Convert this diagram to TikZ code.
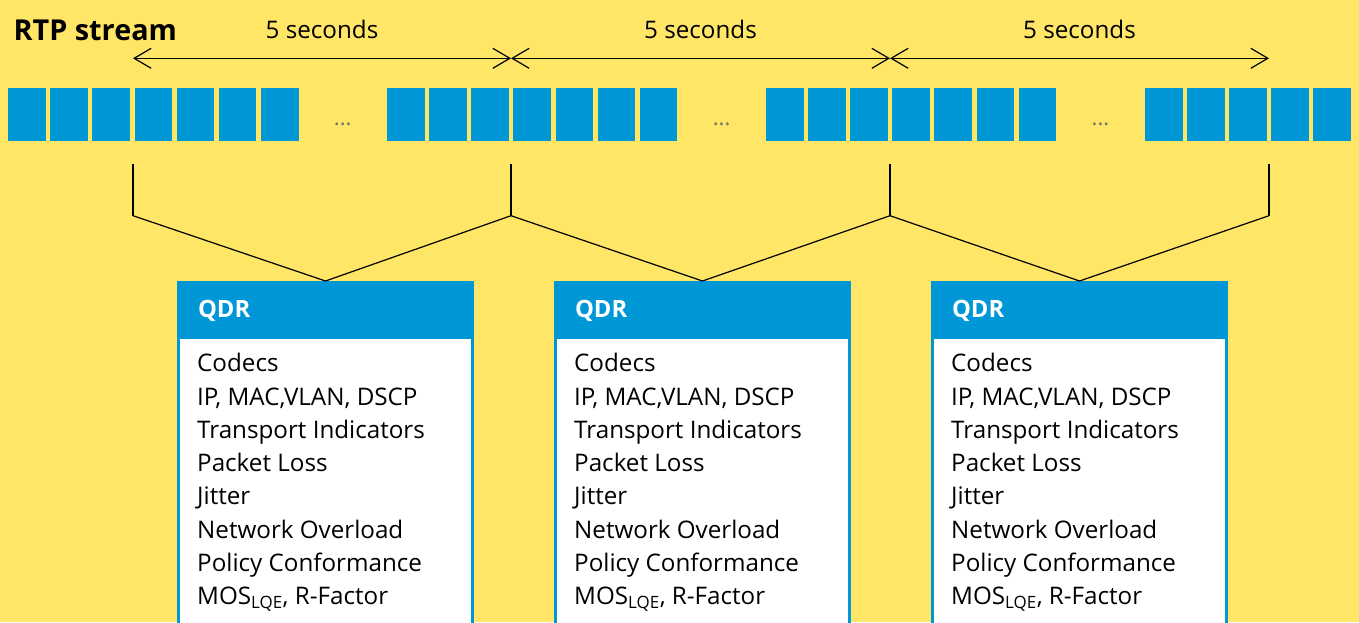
\documentclass[tikz,border=0pt]{standalone}
\usepackage{fontspec}
\setmainfont{Open Sans}
\usetikzlibrary{arrows.meta,positioning}
\definecolor{bgyellow}{RGB}{255,230,102}
\definecolor{qdrblue}{RGB}{0,151,215}

\begin{document}
\begin{tikzpicture}[x=1pt,y=-1pt,>={Straight Barb[length=17pt,width=20pt]},
	packet/.style={fill=qdrblue,minimum width=37.7pt,minimum height=52.7pt,inner sep=0pt,anchor=north west},
	gapdots/.style={text=black!55,font=\fontsize{22}{22}\selectfont,anchor=base,inner sep=0pt},
	qdrhead/.style={fill=qdrblue,text=white,font=\fontsize{23.8}{23.8}\selectfont\bfseries,
		minimum width=297pt,minimum height=57pt,text width=255pt,inner xsep=21pt,
		text height=16.5pt,text depth=0pt,align=left,anchor=north west,outer sep=0pt},
	qdrbody/.style={fill=white,draw=qdrblue,line width=2.6pt,minimum width=294.4pt,
		minimum height=320pt,inner sep=0pt,outer sep=0pt},
	item/.style={anchor=base west,inner sep=0pt,font=\fontsize{24.2}{24.2}\selectfont},
	line/.style={line width=1.2pt}]
	\useasboundingbox (0,0) rectangle (1359,622);
	\fill[bgyellow] (0,0) rectangle (1359,622);

	\node[anchor=base west,inner sep=0pt,font=\fontsize{28.8}{28.8}\selectfont\bfseries] (title) at (13.5,40) {RTP stream};

	% packets, four groups
	\foreach \i in {0,1,2,3,4,5,6,9,10,11,12,13,14,15,18,19,20,21,22,23,24,27,28,29,30,31}
		\node[packet] (pkt\i) at ({8+42.1*\i},88) {};
	\foreach \d/\x in {0/342.7,1/721.6,2/1100.5}
		\node[gapdots] (dots\d) at (\x,125.5) {...};

	% interval marks
	\foreach \m/\x in {0/133,1/511,2/890,3/1269} {
		\coordinate (arr\m) at (\x,58.3);
		\coordinate (top\m) at (\x,164.3);
		\coordinate (bot\m) at (\x,215.7);
		\draw[line] (top\m) -- (bot\m);
	};
	\foreach \m [evaluate=\m as \n using int(\m+1)] in {0,1,2}
		\draw[line,<->] (arr\m) -- node[midway,anchor=base,yshift=19.5pt,inner sep=0pt,
			font=\fontsize{24.2}{24.2}\selectfont] (sec\m) {5 seconds} (arr\n);

	% QDR boxes
	\foreach \b/\x in {0/177,1/554,2/931} {
		\pgfmathtruncatemacro{\c}{\b+1}
		\node[qdrhead] (head\b) at (\x,281) {QDR};
		\node[qdrbody,below=0pt of head\b] (body\b) {};
		\draw[line] (bot\b) -- (head\b.north) -- (bot\c);
		\foreach \t [count=\k] in {Codecs, {IP, MAC,VLAN, DSCP}, Transport Indicators,
				Packet Loss, Jitter, Network Overload, Policy Conformance,
				{MOS\textsubscript{LQE}, R-Factor}}
			\node[item] (l\b-\k) at ({\x+20},{338.4+33.3*\k}) {\t};
	};
\end{tikzpicture}
\end{document}
